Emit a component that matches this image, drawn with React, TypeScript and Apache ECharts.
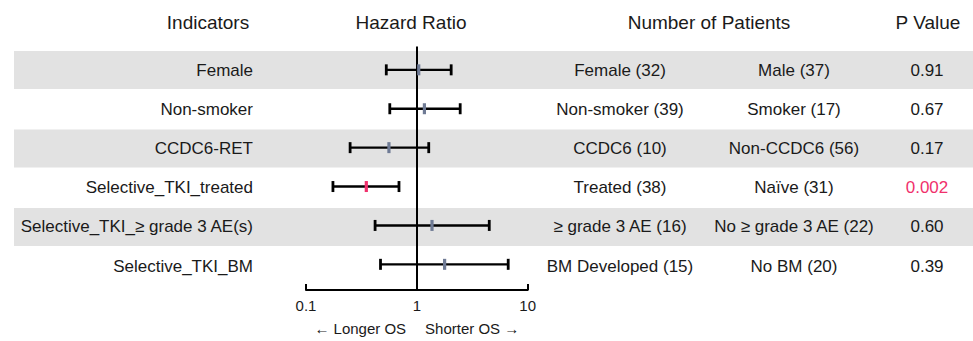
import React, { useEffect, useRef } from "react";
import * as echarts from "echarts";

const indicators = [
  "Female",
  "Non-smoker",
  "CCDC6-RET",
  "Selective_TKI_treated",
  "Selective_TKI_≥ grade 3 AE(s)",
  "Selective_TKI_BM",
];
const hazardRatio = [1.04, 1.17, 0.56, 0.35, 1.37, 1.78];
const ciLower = [0.53, 0.57, 0.25, 0.175, 0.42, 0.47];
const ciUpper = [2.04, 2.46, 1.28, 0.69, 4.5, 6.67];
const groupA = [
  "Female (32)",
  "Non-smoker (39)",
  "CCDC6 (10)",
  "Treated (38)",
  "≥ grade 3 AE (16)",
  "BM Developed (15)",
];
const groupB = [
  "Male (37)",
  "Smoker (17)",
  "Non-CCDC6 (56)",
  "Naïve (31)",
  "No ≥ grade 3 AE (22)",
  "No BM (20)",
];
const pValues = ["0.91", "0.67", "0.17", "0.002", "0.60", "0.39"];
const headers = ["Indicators", "Hazard Ratio", "Number of Patients", "P Value"];
const axisName = ["← Longer OS", "Shorter OS →"];

const FONT = "'Liberation Sans', Arial, Helvetica, sans-serif";
const TEXT = "#1a1a1a";
const RED = "#f0306c";
const GREY_MARK = "#6f7b95";
const BAND = "#e2e2e2";

const W = 973;
const H = 341;
const Y_MIN = -0.6;
const Y_MAX = 5.66;

export default function App() {
  const ref = useRef<HTMLDivElement>(null);

  useEffect(() => {
    document.body.style.margin = "0";
    if (!ref.current) return;
    const chart = echarts.init(ref.current, undefined, { renderer: "svg" });

    const forestData = indicators.map((_, i) => [
      i,
      ciLower[i],
      hazardRatio[i],
      ciUpper[i],
      parseFloat(pValues[i]) < 0.05 ? 1 : 0,
    ]);
    const tableData = indicators.map((_, i) => [i, 0]);

    const option: any = {
      animation: false,
      grid: [
        { left: 306, top: 46.5, width: 221.7, height: 245.5 },
        { left: 0, right: 0, top: 46.5, height: 245.5 },
      ],
      xAxis: [
        {
          gridIndex: 0,
          type: "log",
          logBase: 10,
          min: 0.1,
          max: 10,
          position: "bottom",
          axisLine: { show: true, onZero: false, lineStyle: { color: "#000", width: 2 } },
          axisTick: { show: true, inside: true, length: 6, lineStyle: { color: "#000", width: 2 } },
          minorTick: { show: false },
          splitLine: { show: false },
          axisLabel: {
            color: TEXT,
            fontSize: 15,
            fontFamily: FONT,
            margin: 8,
            formatter: (v: number) => String(v),
          },
          name: `{a|${axisName[0]}}{b|${axisName[1]}}`,
          nameLocation: "middle",
          nameGap: 31,
          nameTextStyle: {
            rich: {
              a: { fontSize: 15, fontFamily: FONT, color: TEXT, padding: [0, 10, 0, 0] },
              b: { fontSize: 15, fontFamily: FONT, color: TEXT, padding: [0, 0, 0, 9] },
            },
          },
        },
        {
          gridIndex: 1,
          type: "value",
          min: 0,
          max: W,
          show: false,
        },
      ],
      yAxis: [
        { gridIndex: 0, type: "value", min: Y_MIN, max: Y_MAX, inverse: true, show: false },
        { gridIndex: 1, type: "value", min: Y_MIN, max: Y_MAX, inverse: true, show: false },
      ],
      graphic: [
        { type: "text", x: 208, y: 22, style: { text: headers[0], fill: TEXT, fontSize: 19, fontFamily: FONT, align: "center", verticalAlign: "middle" } },
        { type: "text", x: 411, y: 22, style: { text: headers[1], fill: TEXT, fontSize: 19, fontFamily: FONT, align: "center", verticalAlign: "middle" } },
        { type: "text", x: 709, y: 22, style: { text: headers[2], fill: TEXT, fontSize: 19, fontFamily: FONT, align: "center", verticalAlign: "middle" } },
        { type: "text", x: 928, y: 22, style: { text: headers[3], fill: TEXT, fontSize: 19, fontFamily: FONT, align: "center", verticalAlign: "middle" } },
      ],
      series: [
        {
          type: "custom",
          name: "table",
          xAxisIndex: 1,
          yAxisIndex: 1,
          z: 0,
          silent: true,
          data: tableData,
          encode: { x: 1, y: 0 },
          renderItem: (params: any, api: any) => {
            const i = api.value(0) as number;
            const children: any[] = [];
            if (i % 2 === 0) {
              const tl = api.coord([14, i - 0.485]);
              const br = api.coord([W, i + 0.485]);
              children.push({
                type: "rect",
                shape: { x: tl[0], y: tl[1], width: br[0] - tl[0], height: br[1] - tl[1] },
                style: { fill: BAND },
              });
            }
            const yc = api.coord([0, i])[1];
            const sig = parseFloat(pValues[i]) < 0.05;
            const txt = (x: number, text: string, align: string, fill = TEXT) => ({
              type: "text",
              x,
              y: yc,
              style: { text, fill, fontSize: 17, fontFamily: FONT, align, verticalAlign: "middle" },
            });
            children.push(txt(253, indicators[i], "right"));
            children.push(txt(620, groupA[i], "center"));
            children.push(txt(794, groupB[i], "center"));
            children.push(txt(927, pValues[i], "center", sig ? RED : TEXT));
            return { type: "group", children };
          },
        },
        {
          type: "custom",
          name: "forest",
          xAxisIndex: 0,
          yAxisIndex: 0,
          z: 5,
          silent: true,
          data: forestData,
          encode: { x: [1, 2, 3], y: 0 },
          renderItem: (params: any, api: any) => {
            const i = api.value(0);
            const lo = api.coord([api.value(1), i]);
            const hr = api.coord([api.value(2), i]);
            const hiP = api.coord([api.value(3), i]);
            const sig = api.value(4) === 1;
            const cap = 5.5;
            return {
              type: "group",
              children: [
                {
                  type: "line",
                  shape: { x1: lo[0], y1: lo[1], x2: hiP[0], y2: hiP[1] },
                  style: { stroke: "#000", lineWidth: 2.4 },
                },
                {
                  type: "line",
                  shape: { x1: lo[0], y1: lo[1] - cap, x2: lo[0], y2: lo[1] + cap },
                  style: { stroke: "#000", lineWidth: 2.8 },
                },
                {
                  type: "line",
                  shape: { x1: hiP[0], y1: hiP[1] - cap, x2: hiP[0], y2: hiP[1] + cap },
                  style: { stroke: "#000", lineWidth: 2.8 },
                },
                {
                  type: "rect",
                  shape: { x: hr[0] - 1.6, y: hr[1] - cap, width: 3.2, height: cap * 2 },
                  style: { fill: sig ? RED : GREY_MARK },
                },
              ],
            };
          },
          markLine: {
            silent: true,
            symbol: ["none", "none"],
            label: { show: false },
            lineStyle: { color: "#000", width: 2, type: "solid" },
            data: [{ xAxis: 1 }],
          },
        },
      ],
    };

    chart.setOption(option);
    return () => chart.dispose();
  }, []);

  return <div ref={ref} style={{ width: W, height: H }} />;
}
